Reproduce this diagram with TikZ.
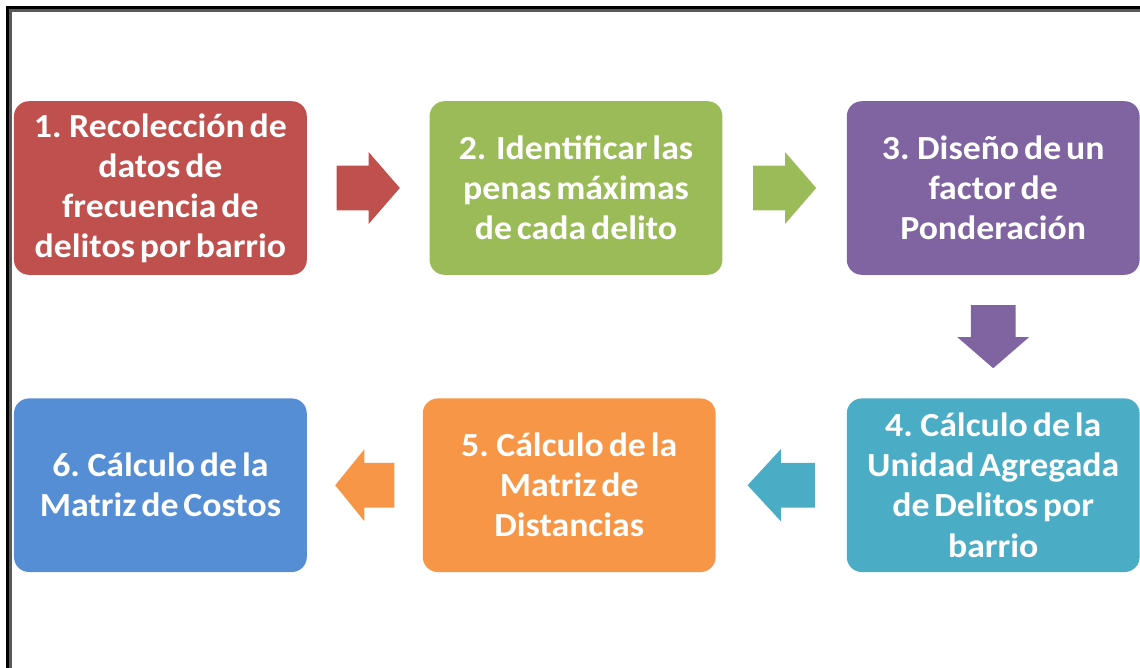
\documentclass[tikz,border=0pt]{standalone}
\usepackage{fontspec}
\setmainfont{Carlito}[FakeStretch=1.06, WordSpace=0.6]
\usepackage{tikz}
\usetikzlibrary{calc}
\usetikzlibrary{positioning}
\definecolor{brickred}{HTML}{C0504D}
\definecolor{olivegreen}{HTML}{9BBB59}
\definecolor{lavender}{HTML}{8064A2}
\definecolor{aqua}{HTML}{4BACC6}
\definecolor{tangerine}{HTML}{F79646}
\definecolor{cornflower}{HTML}{558ED5}
\tikzset{
  stepbox/.style={rounded corners=0.375cm, minimum width=7.32cm, minimum height=4.34cm,
                  inner sep=0pt, align=center, text=white,
                  font=\bfseries\fontsize{24}{28.5}\selectfont},
}

\begin{document}
\begin{tikzpicture}
            % Page size & frame
            \clip                                                             (0.00, 0.00) rectangle (28.50,-16.675);
            \draw[color=black,           line width=2.2pt]                     (0.19,-17.00) -- (0.19,-0.19) -- (29.00,-0.19);
            \draw[color=black!65,        line width=2.2pt]                     (0.27,-17.00) -- (0.27,-0.27) -- (29.00,-0.27);
            % Upper row
            \node[stepbox, fill=brickred]   (recoleccion) at ( 4.01, -4.70) {1. Recolección de\\datos de\\frecuencia de\\delitos por barrio};
            \node[stepbox, fill=olivegreen] (penas)       at (14.40, -4.70) {2.\ \ Identificar las\\penas máximas\\de cada delito};
            \node[stepbox, fill=lavender]   (factor)      at (24.83, -4.70) {3. Diseño de un\\factor de\\Ponderación};
            % Lower row
            \node[stepbox, fill=aqua]       (unidad)      at (24.83,-12.13) {4. Cálculo de la\\Unidad Agregada\\de Delitos por\\barrio};
            \node[stepbox, fill=tangerine]  (distancias)  at (14.23,-12.13) {5. Cálculo de la\\Matriz de\\Distancias};
            \node[stepbox, fill=cornflower] (costos)      at ( 4.01,-12.13) {6. Cálculo de la\\Matriz de Costos};
            % Block arrows
            \fill[color=brickred,   shift={($(recoleccion.east)!0.5!(penas.west)$)}]
                 (-0.79,-0.56) -- (0.01,-0.56) -- (0.01,-0.90) -- (0.79,0.00) -- (0.01,0.90) -- (0.01,0.56) -- (-0.79,0.56) -- cycle;
            \fill[color=olivegreen, shift={($(penas.east)!0.5!(factor.west)$)}]
                 (-0.79,-0.56) -- (0.01,-0.56) -- (0.01,-0.90) -- (0.79,0.00) -- (0.01,0.90) -- (0.01,0.56) -- (-0.79,0.56) -- cycle;
            \fill[color=lavender,   shift={($(factor.south)!0.5!(unidad.north)$)}, rotate=-90]
                 (-0.79,-0.56) -- (0.01,-0.56) -- (0.01,-0.90) -- (0.79,0.00) -- (0.01,0.90) -- (0.01,0.56) -- (-0.79,0.56) -- cycle;
            \fill[color=aqua,       shift={($(unidad.west)!0.5!(distancias.east)$)}, rotate=180]
                 (-0.84,-0.56) -- (0.01,-0.56) -- (0.01,-0.90) -- (0.84,0.00) -- (0.01,0.90) -- (0.01,0.56) -- (-0.84,0.56) -- cycle;
            \fill[color=tangerine,  shift={($(distancias.west)!0.5!(costos.east)$)}, rotate=180]
                 (-0.74,-0.56) -- (0.01,-0.56) -- (0.01,-0.90) -- (0.74,0.00) -- (0.01,0.90) -- (0.01,0.56) -- (-0.74,0.56) -- cycle;
\end{tikzpicture}
\end{document}
